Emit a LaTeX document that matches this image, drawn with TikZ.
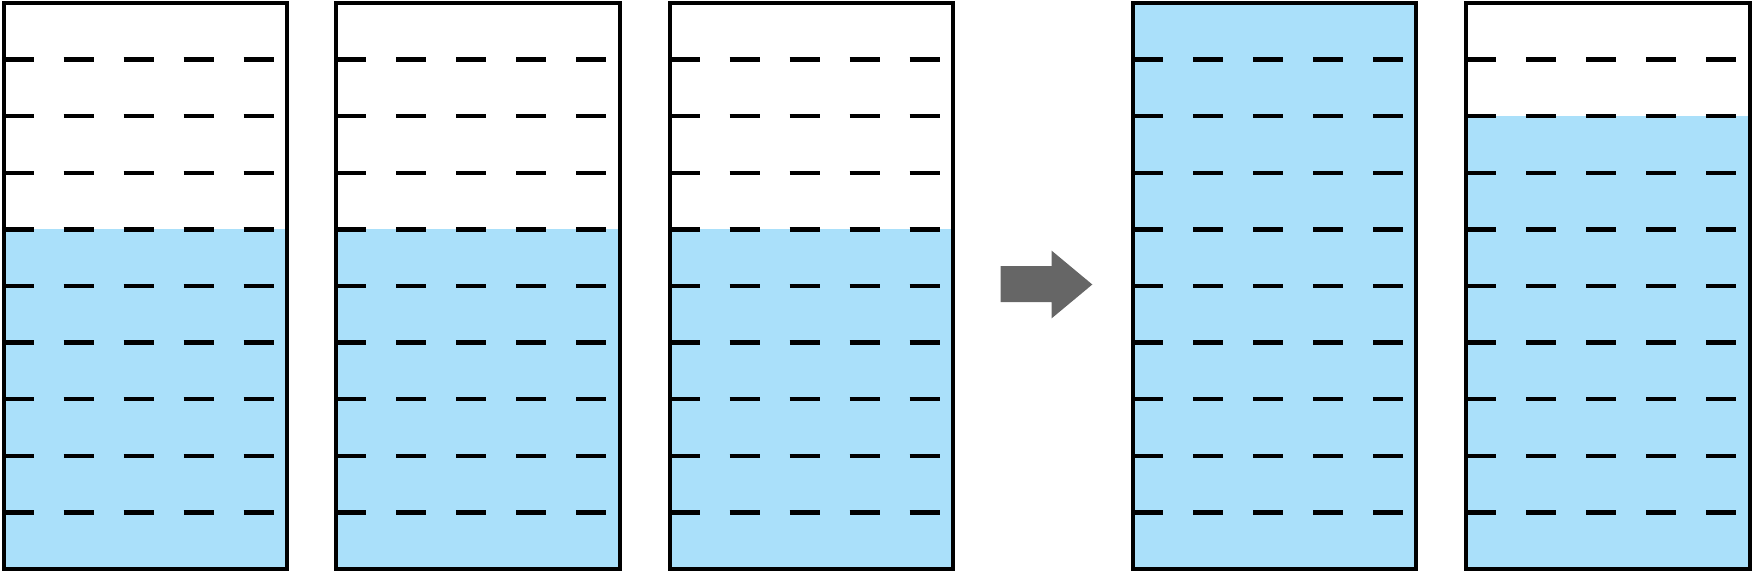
\documentclass[tikz,border=0pt]{standalone}
\definecolor{water}{HTML}{AAE0FA}
\definecolor{arrowgray}{HTML}{666666}
\tikzset{
  beaker/.style={draw=black,line width=4pt},
  waterfill/.style={fill=water,draw=none},
  gauge/.style={draw=black,line width=4.3pt,dash pattern=on 30pt off 30pt},
  bigarrow/.style={fill=arrowgray,draw=none}
}
\begin{document}
\begin{tikzpicture}[x=1pt,y=-1pt]
\useasboundingbox (0,0) rectangle (1753,573);
% x-left, water level row (0 = full)
\foreach \xl/\lev in {3.7/4, 336.3/4, 669.7/4, 1133/0, 1466.3/2}{
  \pgfmathsetmacro{\wy}{3+\lev*56.6}
  \fill[waterfill] (\xl,\wy) rectangle (\xl+283.4,569);
  \foreach \k in {1,...,9}{
    \draw[gauge] (\xl,3+\k*56.6) -- (\xl+270,3+\k*56.6);
  }
  \draw[beaker] (\xl,3) rectangle (\xl+283.4,569);
}
\fill[bigarrow] (1000.7,266) -- (1051.7,266) -- (1051.7,250.7) -- (1092.3,284.5)
  -- (1051.7,318.3) -- (1051.7,302) -- (1000.7,302) -- cycle;
\end{tikzpicture}
\end{document}
